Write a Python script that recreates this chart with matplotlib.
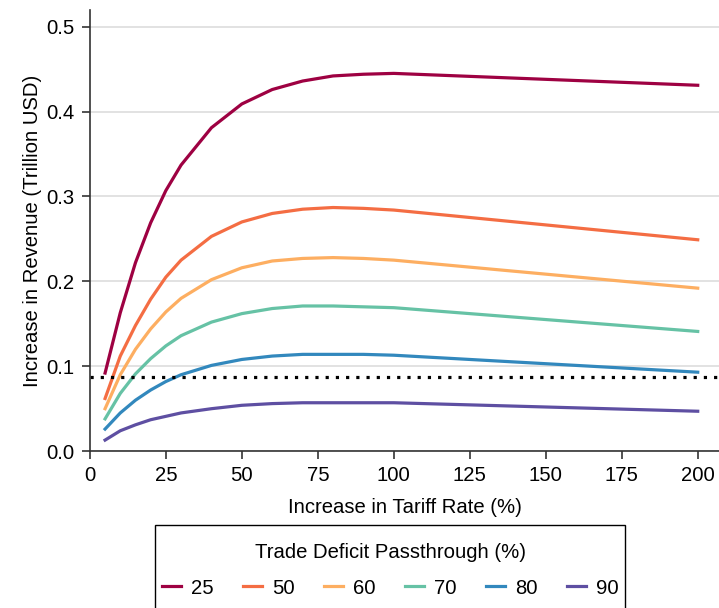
import numpy as np
import matplotlib.pyplot as plt
from matplotlib.patches import Rectangle

plt.rcParams['font.family'] = ['Liberation Sans', 'DejaVu Sans']

# Datos
tarifa = [5, 10, 15, 20, 25, 30, 40, 50, 60, 70, 80, 90, 100, 200]
pass_25 = [0.092, 0.163, 0.222, 0.269, 0.307, 0.337, 0.381, 0.409, 0.426, 0.436, 0.442, 0.444, 0.445, 0.431]
pass_50 = [0.062, 0.112, 0.148, 0.179, 0.205, 0.225, 0.253, 0.270, 0.280, 0.285, 0.287, 0.286, 0.284, 0.249]
pass_60 = [0.050, 0.090, 0.120, 0.144, 0.164, 0.180, 0.202, 0.216, 0.224, 0.227, 0.228, 0.227, 0.225, 0.192]
pass_70 = [0.038, 0.068, 0.091, 0.109, 0.124, 0.136, 0.152, 0.162, 0.168, 0.171, 0.171, 0.170, 0.169, 0.141]
pass_80 = [0.026, 0.045, 0.060, 0.072, 0.082, 0.090, 0.101, 0.108, 0.112, 0.114, 0.114, 0.114, 0.113, 0.093]
pass_90 = [0.013, 0.024, 0.031, 0.037, 0.041, 0.045, 0.050, 0.054, 0.056, 0.057, 0.057, 0.057, 0.057, 0.047]
umbral = 0.0875

series = [pass_25, pass_50, pass_60, pass_70, pass_80, pass_90]
etiquetas = ["25", "50", "60", "70", "80", "90"]
colores = ["#9e0142", "#f46d43", "#fdae61", "#66c2a5", "#3288bd", "#5e4fa2"]

fs = 14.6

fig = plt.figure(figsize=(7.19, 6.08), dpi=100)
ax = fig.add_axes([0.125, 0.258, 0.875, 0.726])

for vals, lab, col in zip(series, etiquetas, colores):
    ax.plot(tarifa, vals, color=col, lw=2.3, label=lab)

ax.axhline(umbral, color='black', ls=(0, (1, 2.2)), lw=2.3)

ax.set_xlim(0, 207)
ax.set_ylim(0, 0.52)
ax.set_xticks(np.arange(0, 201, 25))
ax.set_yticks([0.0, 0.1, 0.2, 0.3, 0.4, 0.5])
ax.yaxis.grid(True, color='#dddddd', lw=1.2)
ax.set_axisbelow(True)
for s in ['top', 'right']:
    ax.spines[s].set_visible(False)
for s in ['left', 'bottom']:
    ax.spines[s].set_color('#333333')
    ax.spines[s].set_linewidth(1.2)
ax.tick_params(labelsize=fs, length=6, width=1.2, color='#333333', pad=5)
ax.set_xlabel("Increase in Tariff Rate (%)", fontsize=fs, labelpad=9)
ax.set_ylabel("Increase in Revenue (Trillion USD)", fontsize=fs, labelpad=3)

# leyenda sin marco, el marco se dibuja aparte
leg = fig.legend(loc='upper center', bbox_to_anchor=(0.543, 0.1405), ncol=6,
                 title="Trade Deficit Passthrough (%)", fontsize=fs, title_fontsize=fs,
                 handlelength=0.95, columnspacing=1.43, handletextpad=0.5,
                 frameon=False, borderpad=0.5)
leg._legend_box.sep = 12

fig.patches.append(Rectangle((155 / 719, -0.01), 470 / 719, 83 / 608 + 0.01,
                             transform=fig.transFigure, fill=False,
                             edgecolor='black', lw=1.0))

fig.savefig("out.png", dpi=100)
